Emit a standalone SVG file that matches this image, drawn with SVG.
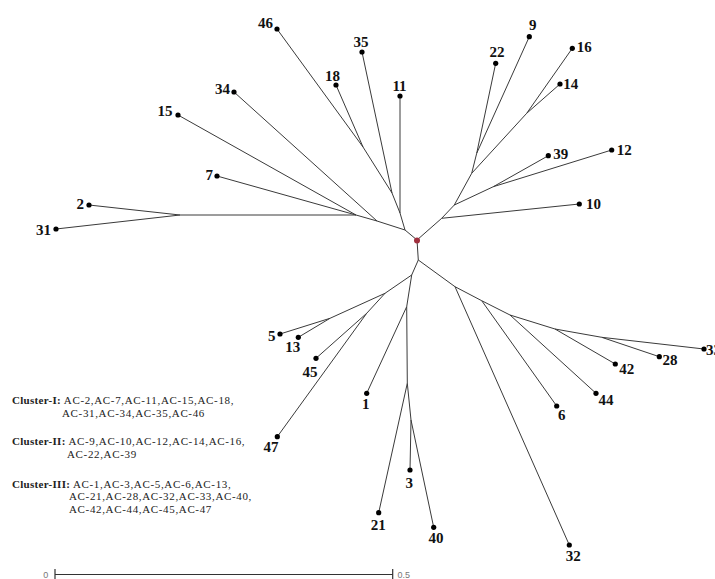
<svg xmlns="http://www.w3.org/2000/svg" width="715" height="579" viewBox="0 0 715 579">
<style>
.e{stroke:#3a3a3a;stroke-width:1;fill:none}
.d{fill:#000}
.l{font-family:"Liberation Serif","Times New Roman",serif;font-weight:bold;font-size:15px;fill:#111}
.m{text-anchor:middle}
.n{text-anchor:end}
.lg{font-family:"Liberation Serif","Times New Roman",serif;font-size:11px;letter-spacing:0.65px;fill:#222}
.lb{font-weight:bold;letter-spacing:0.3px}
.sc{font-family:"Liberation Sans",Arial,sans-serif;font-size:9px;fill:#777}
</style>
<rect width="715" height="579" fill="#fff"/>
<g id="edges">
<path class="e" d="M417,240L405,230L400,213L400,96M400,213L392,193L362,52M392,193L363,147L277,29M363,147L336,85M405,230L377,221L234,92M377,221L356,215L178,115M356,215L217,176M356,215L180,215L89,205M180,215L56,229"/>
<path class="e" d="M417,240L441.7,218.3L579.3,204M441.7,218.3L454.3,205L493.3,186.7L548.3,155.7M493.3,186.7L611.7,150M454.3,205L471.7,173.3L526.7,113.3L572.3,48.3M526.7,113.3L560,84M471.7,173.3L476.7,153.3L495.7,63.3M476.7,153.3L529.3,36.7"/>
<path class="e" d="M417,240L418.3,260L411.7,275L385,293.3L330,318.3L280,334M330,318.3L298.3,337.3M385,293.3L366.7,313.3L316,358.3M366.7,313.3L277.3,436.7M411.7,275L406.7,306.7L366.7,393.3M406.7,306.7L407.3,383.3L378.7,512.7M407.3,383.3L411,420L410,470M411,420L433.7,527.3"/>
<path class="e" d="M418.3,260L455,286.7L569.3,545M455,286.7L481.7,300.7L556.7,406M481.7,300.7L510,315L596,393.3M510,315L555,329L615.3,364M555,329L601.7,337.3L659.3,356.7M601.7,337.3L704,349"/>
</g>
<g id="root"><circle cx="417" cy="240.5" r="3" fill="#a0303e"/></g>
<g id="leaf-46"><circle class="d" cx="277" cy="29" r="2.6"/><text class="l n" x="273" y="28">46</text></g>
<g id="leaf-35"><circle class="d" cx="362" cy="52" r="2.6"/><text class="l m" x="361" y="47">35</text></g>
<g id="leaf-18"><circle class="d" cx="336" cy="85" r="2.6"/><text class="l m" x="332.5" y="81">18</text></g>
<g id="leaf-11"><circle class="d" cx="400" cy="96" r="2.6"/><text class="l m" x="399.5" y="91">11</text></g>
<g id="leaf-34"><circle class="d" cx="234" cy="92" r="2.6"/><text class="l n" x="230" y="94">34</text></g>
<g id="leaf-15"><circle class="d" cx="178" cy="115" r="2.6"/><text class="l n" x="172.5" y="116">15</text></g>
<g id="leaf-7"><circle class="d" cx="217" cy="176" r="2.6"/><text class="l n" x="213" y="180">7</text></g>
<g id="leaf-2"><circle class="d" cx="89" cy="205" r="2.6"/><text class="l n" x="84" y="208.5">2</text></g>
<g id="leaf-31"><circle class="d" cx="56" cy="229" r="2.6"/><text class="l n" x="51" y="234.5">31</text></g>
<g id="leaf-9"><circle class="d" cx="529.3" cy="36.7" r="2.6"/><text class="l m" x="532.7" y="30">9</text></g>
<g id="leaf-22"><circle class="d" cx="495.7" cy="63.3" r="2.6"/><text class="l m" x="497" y="57">22</text></g>
<g id="leaf-16"><circle class="d" cx="572.3" cy="48.3" r="2.6"/><text class="l" x="576.7" y="52">16</text></g>
<g id="leaf-14"><circle class="d" cx="560" cy="84" r="2.6"/><text class="l" x="563.3" y="88.5">14</text></g>
<g id="leaf-39"><circle class="d" cx="548.3" cy="155.7" r="2.6"/><text class="l" x="553.3" y="158.5">39</text></g>
<g id="leaf-12"><circle class="d" cx="611.7" cy="150" r="2.6"/><text class="l" x="616.7" y="155">12</text></g>
<g id="leaf-10"><circle class="d" cx="579.3" cy="204" r="2.6"/><text class="l" x="586" y="208.5">10</text></g>
<g id="leaf-5"><circle class="d" cx="280" cy="334" r="2.6"/><text class="l m" x="271.7" y="341">5</text></g>
<g id="leaf-13"><circle class="d" cx="298.3" cy="337.3" r="2.6"/><text class="l m" x="292.7" y="352">13</text></g>
<g id="leaf-45"><circle class="d" cx="316" cy="358.3" r="2.6"/><text class="l m" x="310" y="377">45</text></g>
<g id="leaf-1"><circle class="d" cx="366.7" cy="393.3" r="2.6"/><text class="l m" x="365.7" y="408.5">1</text></g>
<g id="leaf-47"><circle class="d" cx="277.3" cy="436.7" r="2.6"/><text class="l m" x="271" y="452">47</text></g>
<g id="leaf-3"><circle class="d" cx="410" cy="470" r="2.6"/><text class="l m" x="409.3" y="488">3</text></g>
<g id="leaf-21"><circle class="d" cx="378.7" cy="512.7" r="2.6"/><text class="l m" x="378.3" y="530">21</text></g>
<g id="leaf-40"><circle class="d" cx="433.7" cy="527.3" r="2.6"/><text class="l m" x="436" y="542.5">40</text></g>
<g id="leaf-32"><circle class="d" cx="569.3" cy="545" r="2.6"/><text class="l m" x="573.3" y="561">32</text></g>
<g id="leaf-6"><circle class="d" cx="556.7" cy="406" r="2.6"/><text class="l m" x="561.7" y="420">6</text></g>
<g id="leaf-44"><circle class="d" cx="596" cy="393.3" r="2.6"/><text class="l m" x="606" y="404.5">44</text></g>
<g id="leaf-42"><circle class="d" cx="615.3" cy="364" r="2.6"/><text class="l m" x="626.7" y="373.5">42</text></g>
<g id="leaf-28"><circle class="d" cx="659.3" cy="356.7" r="2.6"/><text class="l m" x="670" y="365">28</text></g>
<g id="leaf-33"><circle class="d" cx="704" cy="349" r="2.6"/><text class="l" x="706" y="355">33</text></g>
<g id="legend">
<text class="lg" x="12" y="404"><tspan class="lb">Cluster-I:</tspan> AC-2,AC-7,AC-11,AC-15,AC-18,</text>
<text class="lg" x="62" y="416.5">AC-31,AC-34,AC-35,AC-46</text>
<text class="lg" x="12" y="445"><tspan class="lb">Cluster-II:</tspan> AC-9,AC-10,AC-12,AC-14,AC-16,</text>
<text class="lg" x="67" y="457.5">AC-22,AC-39</text>
<text class="lg" x="12" y="487.5"><tspan class="lb">Cluster-III:</tspan> AC-1,AC-3,AC-5,AC-6,AC-13,</text>
<text class="lg" x="69" y="500">AC-21,AC-28,AC-32,AC-33,AC-40,</text>
<text class="lg" x="69" y="512.5">AC-42,AC-44,AC-45,AC-47</text>
</g>
<g id="scale">
<path d="M55,574.5H392.7M55,569V580M392.7,569V580" stroke="#333" stroke-width="1.2" fill="none"/>
<text class="sc" x="45.7" y="577.5" text-anchor="middle">0</text>
<text class="sc" x="397.5" y="577.5">0.5</text>
</g>
</svg>
